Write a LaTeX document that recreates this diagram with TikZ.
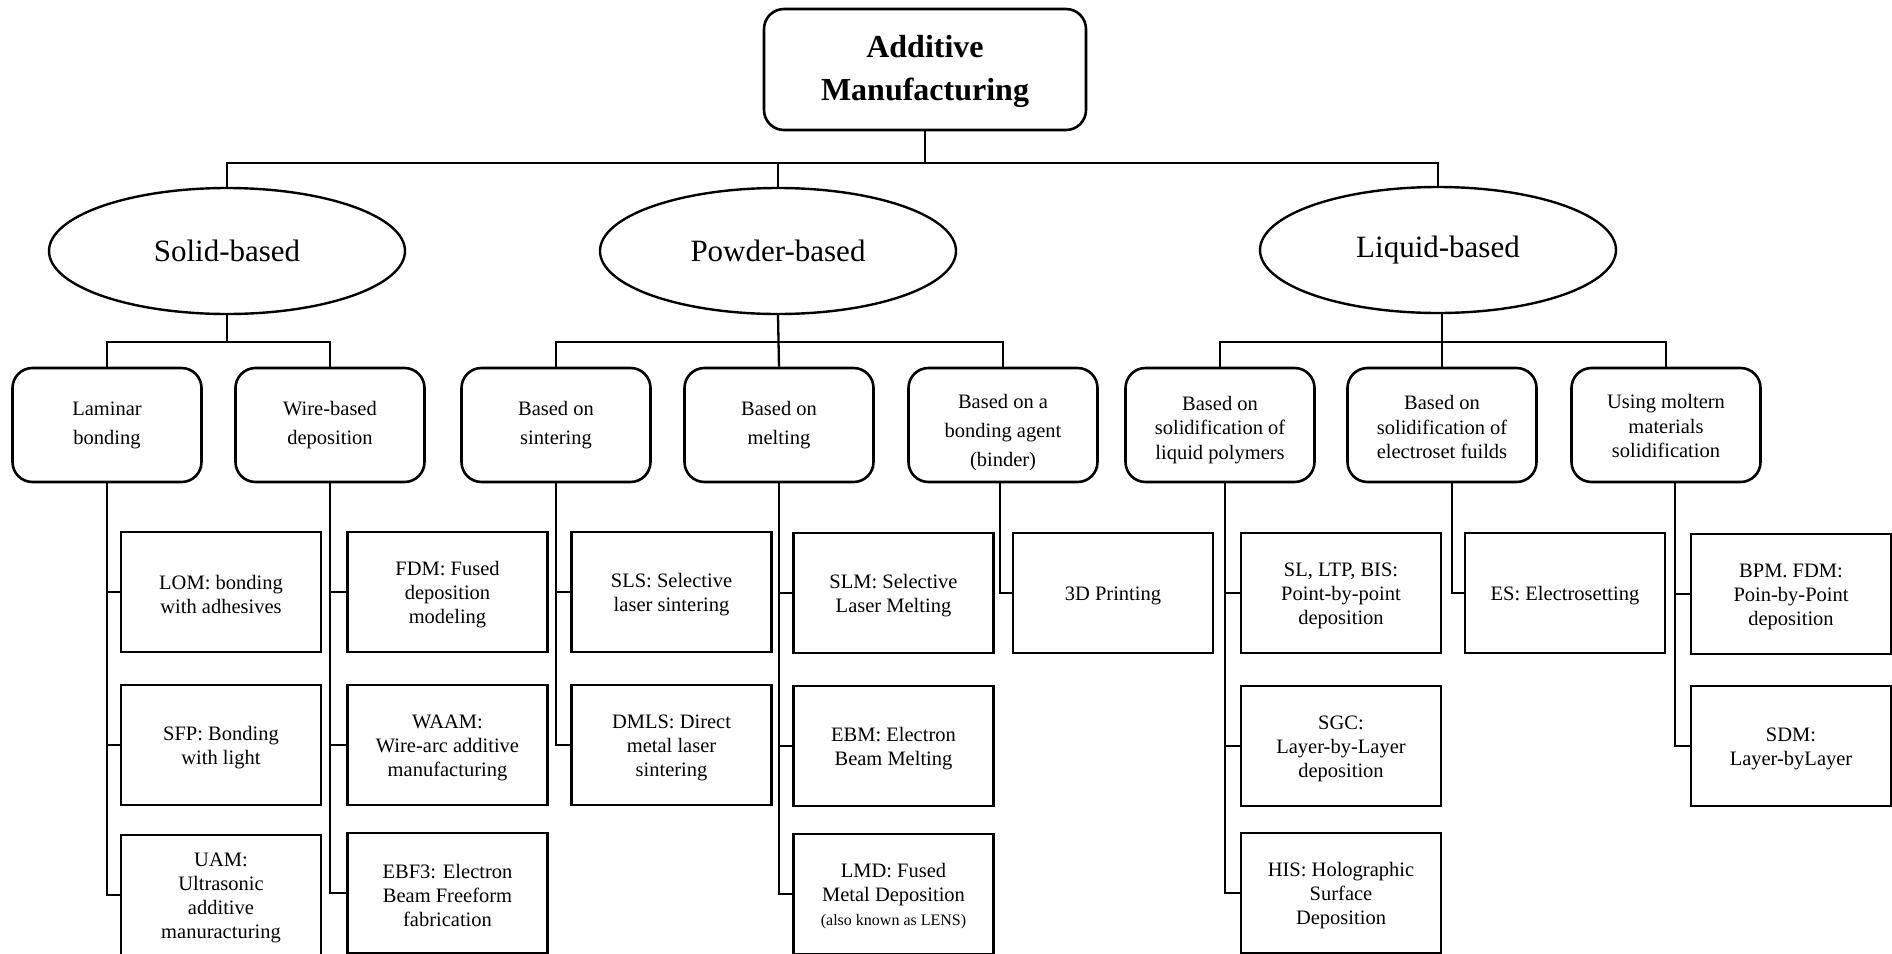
\documentclass[tikz,border=0pt]{standalone}
\usepackage{fontspec}
\setmainfont{Liberation Serif}
\usetikzlibrary{shapes.geometric}

% invisible strut that lowers a multi-line label inside its box
\newcommand{\lowerby}[1]{\rule{0pt}{#1}}
\newcommand{\lf}{\lowerby{19pt}}

\tikzset{
  rootbox/.style={draw, line width=2.6pt, rounded corners=20pt, minimum width=322pt,
    minimum height=121pt, inner sep=0pt, align=center,
    font=\fontsize{32}{43}\selectfont\bfseries},
  catnode/.style={draw, ellipse, line width=2.4pt, minimum width=356pt,
    minimum height=126pt, inner sep=0pt, font=\fontsize{31}{36}\selectfont},
  grpbox/.style={draw, line width=2.6pt, rounded corners=20pt, minimum width=189pt,
    minimum height=114pt, inner sep=0pt, align=center,
    font=\fontsize{20.5}{29}\selectfont},
  tightgrp/.style={grpbox, font=\fontsize{20.5}{24.5}\selectfont},
  leafbox/.style={draw, line width=2.6pt, minimum width=200pt, minimum height=120pt,
    inner sep=0pt, align=center, font=\fontsize{20.5}{24}\selectfont},
  link/.style={draw, line width=2.3pt},
}

\begin{document}
\begin{tikzpicture}[x=1pt, y=-1pt]
\clip (0,0) rectangle (1892,953);
\fill[white] (0,0) rectangle (1892,953);

% root
\node[rootbox] (am) at (925,69.5) {\lowerby{27pt}Additive\\Manufacturing};

% three families
\node[catnode] (solid)  at (227,251) {Solid-based};
\node[catnode] (powder) at (778,251) {Powder-based};
\node[catnode] (liquid) at (1438,250) {Liquid-based};

% process groups
\node[grpbox] (lam)  at (107,425)  {Laminar\\bonding};
\node[grpbox] (wire) at (330,425)  {Wire-based\\deposition};
\node[grpbox] (sint) at (556,425)  {Based on\\sintering};
\node[grpbox] (melt) at (779,425)  {Based on\\melting};
\node[grpbox] (bind) at (1003,425)
  {\lowerby{28.6pt}Based on a\\bonding agent\\(binder)};
\node[tightgrp] (lpol) at (1220,425)
  {\lowerby{23.5pt}Based on\\solidification of\\liquid polymers};
\node[tightgrp] (elec) at (1442,425)
  {\lowerby{19pt}Based on\\solidification of\\electroset fuilds};
\node[tightgrp] (molt) at (1666,425)
  {\lowerby{17pt}Using moltern\\materials\\solidification};

% techniques
\node[leafbox] (lom)  at (221,592) {\lf LOM: bonding\\with adhesives};
\node[leafbox] (sfp)  at (221,745) {\lf SFP: Bonding\\with light};
\node[leafbox] (uam)  at (221,895) {\lf UAM:\\Ultrasonic\\additive\\manuracturing};

\node[leafbox] (fdm)  at (447.5,592) {\lf FDM: Fused\\deposition\\modeling};
\node[leafbox] (waam) at (447.5,745) {\lf WAAM:\\Wire-arc additive\\manufacturing};
\node[leafbox] (ebf)  at (447.5,893) {\lf EBF3: Electron\\Beam Freeform\\fabrication};

\node[leafbox] (sls)  at (671.5,592) {\lf SLS: Selective\\laser sintering};
\node[leafbox] (dmls) at (671.5,745) {\lf DMLS: Direct\\metal laser\\sintering};

\node[leafbox] (slm)  at (893.5,593) {\lf SLM: Selective\\Laser Melting};
\node[leafbox] (ebm)  at (893.5,746) {\lf EBM: Electron\\Beam Melting};
\node[leafbox] (lmd)  at (893.5,894) {\lf LMD: Fused\\Metal Deposition\\{\fontsize{16}{18}\selectfont (also known as LENS)}};

\node[leafbox] (tdp)  at (1113,593) {\lf 3D Printing};

\node[leafbox] (sl)   at (1341,593) {\lf SL, LTP, BIS:\\Point-by-point\\deposition};
\node[leafbox] (sgc)  at (1341,746) {\lf SGC:\\Layer-by-Layer\\deposition};
\node[leafbox] (his)  at (1341,893) {\lf HIS: Holographic\\Surface\\Deposition};

\node[leafbox] (es)   at (1565,593) {\lf ES: Electrosetting};

\node[leafbox] (bpm)  at (1791,594) {\lf BPM. FDM:\\Poin-by-Point\\deposition};
\node[leafbox] (sdm)  at (1791,746) {\lf SDM:\\Layer-byLayer};

% first-level bus
\coordinate (b1) at (925,163);
\path[link] (am.south) -- (b1);
\path[link] (solid.north) |- (b1) -| (liquid.north);
\path[link] (powder.north) -- (powder.north |- b1);

% second-level buses
\coordinate (b2) at (227,342);
\path[link] (solid.south) -- (b2);
\path[link] (lam.north) |- (b2) -| (wire.north);
\path[link] (powder.south) -- (melt.north);
\path[link] (sint.north) |- (melt.north |- b2) -| (bind.north);
\path[link] (elec.north |- liquid.south) -- (elec.north);
\path[link] (lpol.north) |- (elec.north |- b2) -| (molt.north);

% branches down to the techniques
\path[link] (lam.south) |- (uam.west);
\path[link] (lam.south |- lom.west) -- (lom.west);
\path[link] (lam.south |- sfp.west) -- (sfp.west);

\path[link] (wire.south) |- (ebf.west);
\path[link] (wire.south |- fdm.west) -- (fdm.west);
\path[link] (wire.south |- waam.west) -- (waam.west);

\path[link] (sint.south) |- (dmls.west);
\path[link] (sint.south |- sls.west) -- (sls.west);

\path[link] (melt.south) |- (lmd.west);
\path[link] (melt.south |- slm.west) -- (slm.west);
\path[link] (melt.south |- ebm.west) -- (ebm.west);

\path[link] ([xshift=-3pt]bind.south) |- (tdp.west);

\path[link] ([xshift=5pt]lpol.south) |- (his.west);
\path[link] ([xshift=5pt]lpol.south |- sl.west) -- (sl.west);
\path[link] ([xshift=5pt]lpol.south |- sgc.west) -- (sgc.west);

\path[link] ([xshift=10pt]elec.south) |- (es.west);

\path[link] ([xshift=9pt]molt.south) |- (sdm.west);
\path[link] ([xshift=9pt]molt.south |- bpm.west) -- (bpm.west);
\end{tikzpicture}
\end{document}
